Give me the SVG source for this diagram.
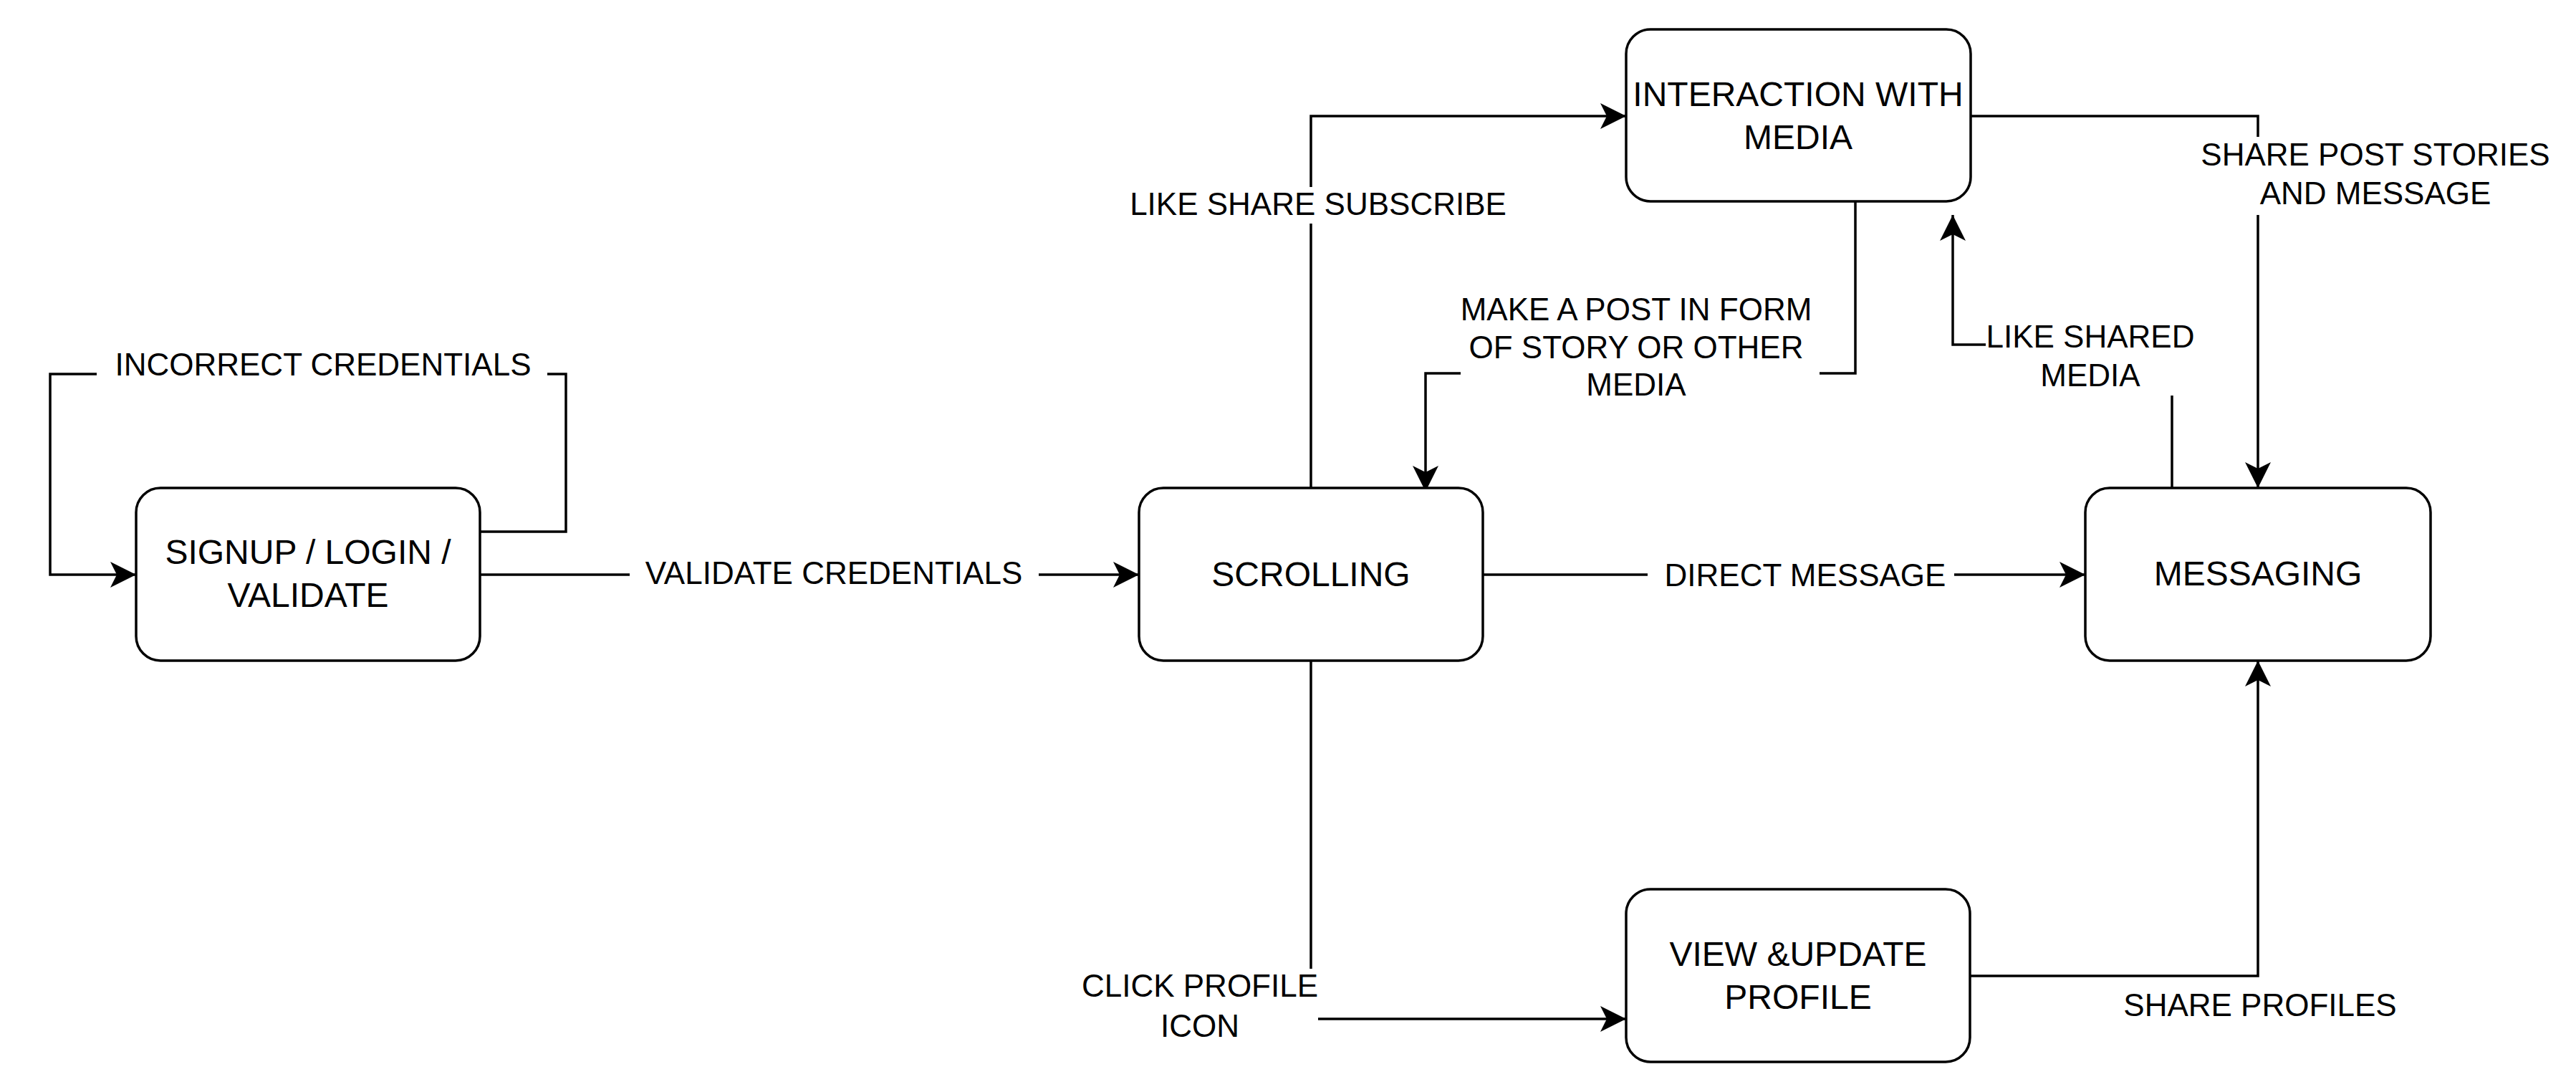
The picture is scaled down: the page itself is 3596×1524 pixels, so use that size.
<svg xmlns="http://www.w3.org/2000/svg" width="3596" height="1524" viewBox="0 0 3596 1524">
<style>
.box{fill:#fff;stroke:#000;stroke-width:3.5}
.edge{fill:none;stroke:#000;stroke-width:3.5}
.nt{font-family:"Liberation Sans",Arial,Helvetica,sans-serif;font-size:48px;fill:#000;text-anchor:middle}
.lt{font-family:"Liberation Sans",Arial,Helvetica,sans-serif;font-size:44px;fill:#000;text-anchor:middle}
</style>
<defs>
<marker id="arr" viewBox="-40 -20 42 40" markerWidth="42" markerHeight="40" refX="0" refY="0" markerUnits="userSpaceOnUse" orient="auto">
<path d="M0,0 L-36,-18 L-27,0 L-36,18 Z" fill="#000"/>
</marker>
</defs>
<rect width="3596" height="1524" fill="#fff"/>
<g id="connectors">
<g id="e-incorrect">
<path class="edge" d="M670,742 H790 V522 H764"/>
<path class="edge" d="M135,522 H70 V802 H190" marker-end="url(#arr)"/>
<text class="lt" x="451" y="524">INCORRECT CREDENTIALS</text>
</g>
<g id="e-validate">
<path class="edge" d="M670,802 H879"/>
<path class="edge" d="M1450,802 H1590" marker-end="url(#arr)"/>
<text class="lt" x="1164" y="815">VALIDATE CREDENTIALS</text>
</g>
<g id="e-like">
<path class="edge" d="M1830,681 V312"/>
<path class="edge" d="M1830,261 V162 H2270" marker-end="url(#arr)"/>
<text class="lt" x="1840" y="300">LIKE SHARE SUBSCRIBE</text>
</g>
<g id="e-post">
<path class="edge" d="M2590,281 V521 H2540"/>
<path class="edge" d="M2039,521 H1990 V686" marker-end="url(#arr)"/>
<text class="lt" x="2284" y="447">MAKE A POST IN FORM</text>
<text class="lt" x="2284" y="500">OF STORY OR OTHER</text>
<text class="lt" x="2284" y="552">MEDIA</text>
</g>
<g id="e-share-post">
<path class="edge" d="M2751,162 H3152 V191"/>
<path class="edge" d="M3152,300 V681" marker-end="url(#arr)"/>
<text class="lt" x="3316" y="231">SHARE POST STORIES</text>
<text class="lt" x="3316" y="285">AND MESSAGE</text>
</g>
<g id="e-like-shared">
<path class="edge" d="M3032,681 V552"/>
<path class="edge" d="M2772,481 H2726 V300" marker-end="url(#arr)"/>
<text class="lt" x="2918" y="485">LIKE SHARED</text>
<text class="lt" x="2918" y="539">MEDIA</text>
</g>
<g id="e-direct">
<path class="edge" d="M2070,802 H2300"/>
<path class="edge" d="M2728,802 H2911" marker-end="url(#arr)"/>
<text class="lt" x="2520" y="818">DIRECT MESSAGE</text>
</g>
<g id="e-click">
<path class="edge" d="M1830,922 V1352"/>
<path class="edge" d="M1840,1422 H2270" marker-end="url(#arr)"/>
<text class="lt" x="1675" y="1391">CLICK PROFILE</text>
<text class="lt" x="1675" y="1447">ICON</text>
</g>
<g id="e-share-profiles">
<path class="edge" d="M2750,1362 H3152 V922" marker-end="url(#arr)"/>
<text class="lt" x="3155" y="1418">SHARE PROFILES</text>
</g>
</g>
<g id="node-signup">
<rect class="box" x="190" y="681" width="480" height="241" rx="34"/>
<text class="nt" x="430" y="787">SIGNUP / LOGIN /</text>
<text class="nt" x="430" y="847">VALIDATE</text>
</g>
<g id="node-scrolling">
<rect class="box" x="1590" y="681" width="480" height="241" rx="34"/>
<text class="nt" x="1830" y="818">SCROLLING</text>
</g>
<g id="node-interaction">
<rect class="box" x="2270" y="41" width="481" height="240" rx="34"/>
<text class="nt" x="2510" y="148">INTERACTION WITH</text>
<text class="nt" x="2510" y="208">MEDIA</text>
</g>
<g id="node-messaging">
<rect class="box" x="2911" y="681" width="482" height="241" rx="34"/>
<text class="nt" x="3152" y="817">MESSAGING</text>
</g>
<g id="node-profile">
<rect class="box" x="2270" y="1241" width="480" height="241" rx="34"/>
<text class="nt" x="2510" y="1348">VIEW &amp;UPDATE</text>
<text class="nt" x="2510" y="1408">PROFILE</text>
</g>
</svg>
